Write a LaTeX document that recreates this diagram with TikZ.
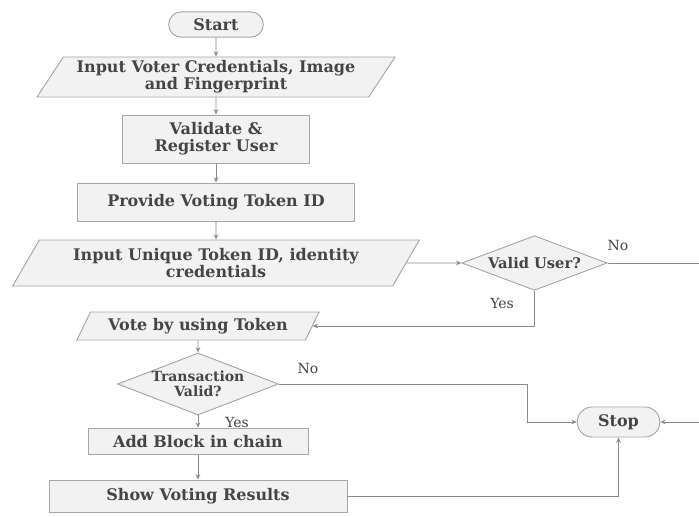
\documentclass[tikz,border=0pt]{standalone}
\usepackage{fontspec}
\setmainfont{DejaVu Serif}
\usetikzlibrary{arrows.meta,positioning,shapes.geometric,shapes.misc}
\definecolor{boxfill}{HTML}{F2F2F2}
\definecolor{boxline}{HTML}{A6A6A6}
\definecolor{arrline}{HTML}{8C8C8C}
\definecolor{txt}{HTML}{454545}
\tikzset{
  base/.style={draw=boxline, fill=boxfill, line width=0.7pt, text=txt,
               font=\fontsize{12}{13}\selectfont\bfseries, align=center, inner sep=0pt},
  proc/.style={base, rectangle},
  io/.style={base, trapezium, trapezium left angle=54, trapezium right angle=126,
             trapezium stretches=true},
  dec/.style={base, diamond, aspect=2.6},
  term/.style={base, rounded rectangle},
  flow/.style={draw=arrline, line width=0.7pt, -{Stealth[length=4pt,width=3.5pt]}},
  lbl/.style={text=txt, font=\fontsize{10.5}{12}\selectfont}
}
\begin{document}
\begin{tikzpicture}[x=0.75pt,y=-0.75pt]
  \clip (0,0) rectangle (699,517);
  \fill[white] (0,0) rectangle (699,517);

  % main column
  \node[term, minimum width=71pt, minimum height=19pt] (start) at (216,24.5) {Start};
  \node[io, minimum width=269pt, minimum height=30pt] (reg) at (216,77)
    {Input Voter Credentials, Image\\and Fingerprint};
  \node[proc, minimum width=140pt, minimum height=36pt] (check) at (216,139)
    {Validate \&\\Register User};
  \node[proc, minimum width=208pt, minimum height=28.5pt] (token) at (216,202)
    {Provide Voting Token ID};
  \node[io, minimum width=306pt, minimum height=34.5pt] (login) at (216,263)
    {Input Unique Token ID, identity\\credentials};
  \node[dec, minimum width=109pt, minimum height=41pt,
        font=\fontsize{11}{13}\selectfont\bfseries] (user) at (534.5,263) {Valid User?};

  % voting part
  \node[io, minimum width=182pt, minimum height=21pt] (vote) at (198,326) {Vote by using Token};
  \node[dec, minimum width=118.5pt, minimum height=46.5pt,
        font=\fontsize{10.5}{11.5}\selectfont\bfseries] (trans) at (198,384) {Transaction\\Valid?};
  \node[proc, minimum width=165pt, minimum height=20pt] (block) at (198,441.5) {Add Block in chain};
  \node[proc, minimum width=223.5pt, minimum height=24pt] (result) at (198,496) {Show Voting Results};
  \node[term, minimum width=62pt, minimum height=22.5pt] (stop) at (618.5,422) {Stop};

  \node[lbl] (no1) at (618,245) {No};
  \node[lbl] (yes1) at (502,303) {Yes};
  \node[lbl] (no2) at (308,368) {No};
  \node[lbl] (yes2) at (237,422) {Yes};

  \coordinate (farR) at (712,422);
  \coordinate (midR) at (527,422);

  \draw[flow] (start) -- (reg);
  \draw[flow] (reg) -- (check);
  \draw[flow] (check) -- (token);
  \draw[flow] (token) -- (login);
  \draw[flow] (login) -- (user);
  \draw[flow] (user.east) -| (farR) -- (stop.east);
  \draw[flow] (user.south) |- (vote.east);
  \draw[flow] (vote) -- (trans);
  \draw[flow] (trans.east) -| (midR) -- (stop.west);
  \draw[flow] (trans) -- (block);
  \draw[flow] (block) -- (result);
  \draw[flow] (result.east) -| (stop.south);
\end{tikzpicture}
\end{document}
